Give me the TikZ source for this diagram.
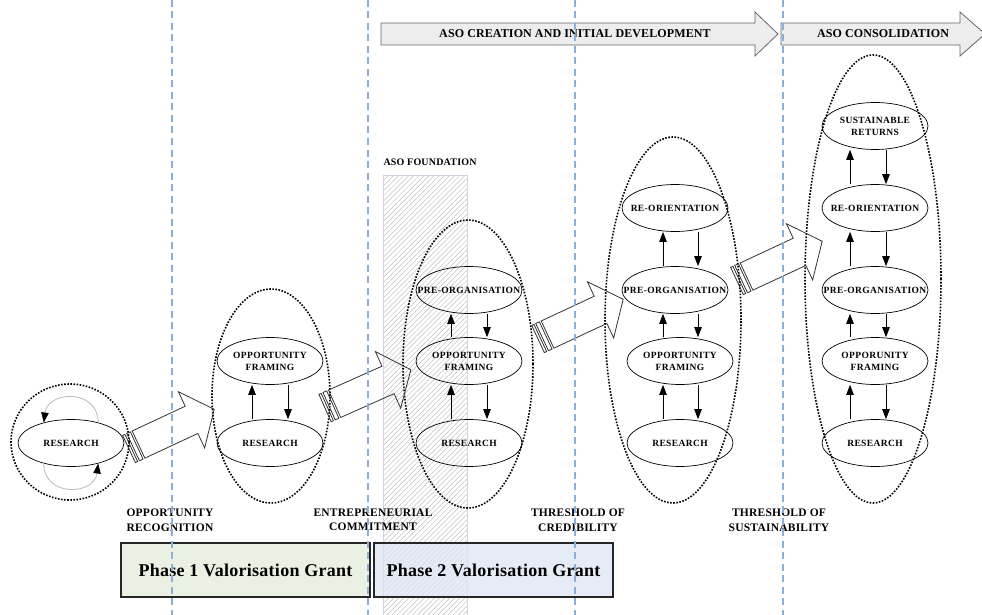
\documentclass[tikz,border=0pt]{standalone}
\usepackage{fontspec}
\setmainfont{Liberation Serif}
\usetikzlibrary{arrows.meta,shapes.geometric,patterns.meta}

\definecolor{cutline}{RGB}{140,175,215}
\definecolor{phaseone}{RGB}{235,241,226}
\definecolor{phasetwo}{RGB}{221,230,243}
\definecolor{bannergray}{RGB}{237,237,237}

\newcommand\stagefont{\fontsize{9.5}{12}\selectfont\bfseries\addfontfeature{LetterSpace=4}}
\newcommand\labelfont{\fontsize{11.5}{14.5}\selectfont\bfseries\addfontfeature{LetterSpace=2}}
\newcommand\bannerfont{\fontsize{12}{14}\selectfont\bfseries\addfontfeature{LetterSpace=1}}
\newcommand\grantfont{\fontsize{18}{20}\selectfont\bfseries\addfontfeature{LetterSpace=1.5}}

\tikzset{
  stage/.style={draw, ellipse, line width=0.7pt, minimum width=106pt, minimum height=47pt,
    inner xsep=-20pt, inner ysep=0pt, align=center, font=\stagefont},
  group/.style={draw, ellipse, line width=1.6pt, dash pattern=on 1.6pt off 1.5pt, inner sep=0pt},
  flow/.style={line width=0.8pt, -{Triangle[width=7.5pt,length=10pt]}},
  loopback/.style={gray!55, line width=0.8pt, -{Triangle[width=7.5pt,length=10pt,color=black]}},
  hollow/.style={draw=black!80, line width=0.8pt},
  push/.pic={
    \draw[hollow] (0,-15) rectangle (2.5,15);
    \draw[hollow] (4.5,-15) rectangle (8.5,15);
    \draw[hollow] (10.5,-15) -- (69,-15) -- (69,-31) -- (94,0) -- (69,31) -- (69,15) -- (10.5,15) -- cycle;
  },
  banner/.style={draw=black!60, fill=bannergray, line width=0.8pt},
  grant/.style={draw=black!85, line width=1.1pt, minimum height=54pt, font=\grantfont},
  stagelabel/.style={align=center, font=\labelfont},
  cut/.style={cutline, line width=1.2pt, dash pattern=on 7pt off 4.5pt}
}

\begin{document}
\begin{tikzpicture}[x=1pt,y=-1pt]
  \useasboundingbox (0,0) rectangle (982,615);
  % foundation band
  \fill[pattern={Lines[angle=45, distance=3.6pt, line width=0.5pt]}, pattern color=gray!50] (383,175) rectangle (467,615);
  \draw[blue!15!gray!30, line width=0.6pt] (383,615) -- (383,175) -- (467,175) -- (467,615);
  \node[anchor=west, font=\fontsize{10}{12}\selectfont\bfseries\addfontfeature{LetterSpace=2}] (found) at (380,162) {ASO FOUNDATION};

  % top banners
  \draw[banner] (381,23) -- (755,23) -- (755,12) -- (778,34) -- (755,56) -- (755,45) -- (381,45) -- cycle;
  \node[font=\bannerfont] (creation) at (575,34) {ASO CREATION AND INITIAL DEVELOPMENT};
  \draw[banner] (781,23) -- (960,23) -- (960,12) -- (985,34) -- (960,56) -- (960,45) -- (781,45) -- cycle;
  \node[font=\bannerfont] (consol) at (883,34) {ASO CONSOLIDATION};

  % grants
  \node[grant, fill=phaseone, minimum width=249pt] (grant1) at (245.5,570) {Phase 1 Valorisation Grant};
  \node[grant, fill=phasetwo, fill opacity=0.75, text opacity=1, minimum width=239pt] (grant2) at (493.5,570) {Phase 2 Valorisation Grant};

  % stage 1
  \node[group, minimum width=118pt, minimum height=116pt] (g1) at (70,442) {};
  \node[stage] (r1) at (71,443) {RESEARCH};
  \draw[loopback] (r1.37) .. controls +(0,-34) and +(4,-32) .. (r1.143);
  \draw[loopback] (r1.217) .. controls +(0,34) and +(-4,32) .. (r1.323);

  % stage 2
  \node[group, minimum width=118pt, minimum height=214pt] (g2) at (271,396) {};
  \node[stage] (r2) at (270,443) {RESEARCH};
  \node[stage] (f2) at (270,361) {OPPORTUNITY\\FRAMING};
  \draw[flow] ([xshift=-18pt]r2.north) -- ([xshift=-18pt]f2.south);
  \draw[flow] ([xshift=18pt]f2.south) -- ([xshift=18pt]r2.north);

  % stage 3
  \node[group, minimum width=130pt, minimum height=288pt] (g3) at (468,364) {};
  \node[stage] (r3) at (469,443) {RESEARCH};
  \node[stage] (f3) at (469,361) {OPPORTUNITY\\FRAMING};
  \node[stage] (p3) at (469,290) {PRE-ORGANISATION};
  \draw[flow] ([xshift=-18pt]r3.north) -- ([xshift=-18pt]f3.south);
  \draw[flow] ([xshift=18pt]f3.south) -- ([xshift=18pt]r3.north);
  \draw[flow] ([xshift=-18pt]f3.north) -- ([xshift=-18pt]p3.south);
  \draw[flow] ([xshift=18pt]p3.south) -- ([xshift=18pt]f3.north);

  % stage 4
  \node[group, minimum width=136pt, minimum height=366pt] (g4) at (673,320) {};
  \node[stage] (r4) at (680,443) {RESEARCH};
  \node[stage] (f4) at (680,361) {OPPORTUNITY\\FRAMING};
  \node[stage] (p4) at (675,290) {PRE-ORGANISATION};
  \node[stage] (o4) at (675,208) {RE-ORIENTATION};
  \draw[flow] ([xshift=-17pt]r4.north) -- ([xshift=-17pt]f4.south);
  \draw[flow] ([xshift=18pt]f4.south) -- ([xshift=18pt]r4.north);
  \draw[flow] ([xshift=-17pt]f4.north) -- ([xshift=-12pt]p4.south);
  \draw[flow] ([xshift=23pt]p4.south) -- ([xshift=18pt]f4.north);
  \draw[flow] ([xshift=-12pt]p4.north) -- ([xshift=-12pt]o4.south);
  \draw[flow] ([xshift=23pt]o4.south) -- ([xshift=23pt]p4.north);

  % stage 5
  \node[group, minimum width=136pt, minimum height=448pt] (g5) at (873,279) {};
  \node[stage] (r5) at (875,443) {RESEARCH};
  \node[stage] (f5) at (875,361) {OPPORUNITY\\FRAMING};
  \node[stage] (p5) at (875,290) {PRE-ORGANISATION};
  \node[stage] (o5) at (875,208) {RE-ORIENTATION};
  \node[stage] (s5) at (875,126) {SUSTAINABLE\\RETURNS};
  \draw[flow] ([xshift=-25pt]r5.north) -- ([xshift=-25pt]f5.south);
  \draw[flow] ([xshift=11pt]f5.south) -- ([xshift=11pt]r5.north);
  \draw[flow] ([xshift=-25pt]f5.north) -- ([xshift=-25pt]p5.south);
  \draw[flow] ([xshift=11pt]p5.south) -- ([xshift=11pt]f5.north);
  \draw[flow] ([xshift=-25pt]p5.north) -- ([xshift=-25pt]o5.south);
  \draw[flow] ([xshift=11pt]o5.south) -- ([xshift=11pt]p5.north);
  \draw[flow] ([xshift=-25pt]o5.north) -- ([xshift=-25pt]s5.south);
  \draw[flow] ([xshift=11pt]s5.south) -- ([xshift=11pt]o5.north);

  % transitions
  \pic[rotate=25] at (129,449) {push};
  \pic[rotate=24] at (325,408) {push};
  \pic[rotate=25] at (538,339) {push};
  \pic[rotate=25] at (737,281) {push};

  % thresholds
  \node[stagelabel] (recog) at (170,520) {OPPORTUNITY\\RECOGNITION};
  \node[stagelabel] (commit) at (373,520) {ENTREPRENEURIAL\\COMMITMENT};
  \node[stagelabel] (cred) at (578,520) {THRESHOLD OF\\CREDIBILITY};
  \node[stagelabel] (sust) at (779,520) {THRESHOLD OF\\SUSTAINABILITY};

  \foreach \x in {172,368,575,783}
    \draw[cut] (\x,0) -- (\x,615);
\end{tikzpicture}
\end{document}
